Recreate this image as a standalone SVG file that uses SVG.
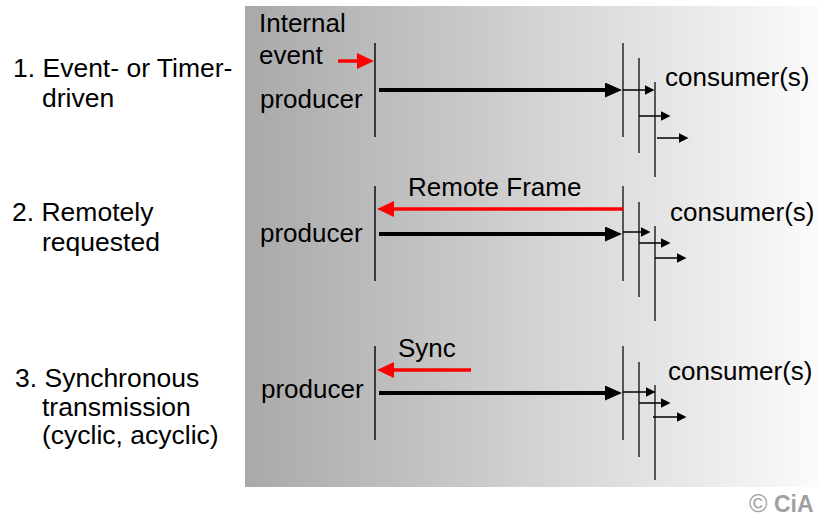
<svg xmlns="http://www.w3.org/2000/svg" width="819" height="517" viewBox="0 0 819 517">
<defs>
<linearGradient id="bg" x1="0" y1="0" x2="1" y2="0">
<stop offset="0" stop-color="#a9a9a9"/>
<stop offset="0.5" stop-color="#d2d2d2"/>
<stop offset="1" stop-color="#fbfbfb"/>
</linearGradient>
<marker id="bigHead" markerUnits="userSpaceOnUse" markerWidth="18" markerHeight="16" refX="1" refY="7.5" orient="auto">
<path d="M0,0 L17,7.5 L0,15 z" fill="#000"/>
</marker>
<marker id="smallHead" markerUnits="userSpaceOnUse" markerWidth="12" markerHeight="12" refX="0.5" refY="5" orient="auto">
<path d="M0,0 L10,5 L0,10 z" fill="#000"/>
</marker>
<marker id="redHead" markerUnits="userSpaceOnUse" markerWidth="18" markerHeight="18" refX="1" refY="8" orient="auto">
<path d="M0,0 L17,8 L0,16 z" fill="#ff0000"/>
</marker>
</defs>
<style>
text{font-family:"Liberation Sans",Arial,sans-serif;fill:#000;}
.lbl{font-size:26px;}
.prod{font-size:26px;}
.side{font-size:26.5px;}
.vline{stroke:#3a3a3a;stroke-width:2;}
.cline{stroke:#333;stroke-width:1.6;}
.big{stroke:#000;stroke-width:4;fill:none;marker-end:url(#bigHead);}
.small{stroke:#000;stroke-width:1.5;fill:none;marker-end:url(#smallHead);}
.red{stroke:#ff0000;stroke-width:3.5;fill:none;marker-end:url(#redHead);}
.logo{font-family:"Liberation Sans",Arial,sans-serif;fill:#a0a0a0;}
</style>
<rect x="245" y="6" width="574" height="481" fill="url(#bg)"/>

<g id="labels">
<text class="side" x="13" y="77">1. Event- or Timer-</text>
<text class="side" x="42" y="107">driven</text>
<text class="side" x="12" y="221">2. Remotely</text>
<text class="side" x="42" y="251">requested</text>
<text class="side" x="15" y="387">3. Synchronous</text>
<text class="side" x="42" y="416">transmission</text>
<text class="side" x="42" y="444">(cyclic, acyclic)</text>
</g>

<g id="producer1">
<line class="vline" x1="375" y1="43" x2="375" y2="137"/>
<text class="lbl" x="259" y="32">Internal</text>
<text class="lbl" x="259" y="64">event</text>
<text class="prod" x="260" y="108">producer</text>
</g>
<g id="consumer1">
<line class="cline" x1="623" y1="43" x2="623" y2="137"/>
<line class="cline" x1="639" y1="58" x2="639" y2="153"/>
<line class="cline" x1="655" y1="82" x2="655" y2="177"/>
<text class="lbl" x="665" y="86">consumer(s)</text>
</g>

<g id="producer2">
<line class="vline" x1="375" y1="186" x2="375" y2="281"/>
<text class="prod" x="260" y="242">producer</text>
</g>
<g id="consumer2">
<line class="cline" x1="623" y1="186" x2="623" y2="281"/>
<line class="cline" x1="639" y1="202" x2="639" y2="297"/>
<line class="cline" x1="655" y1="226" x2="655" y2="321"/>
<text class="lbl" x="670" y="221">consumer(s)</text>
</g>

<g id="producer3">
<line class="vline" x1="375" y1="346" x2="375" y2="440"/>
<text class="prod" x="261" y="398">producer</text>
</g>
<g id="consumer3">
<line class="cline" x1="623" y1="346" x2="623" y2="440"/>
<line class="cline" x1="639" y1="362" x2="639" y2="457"/>
<line class="cline" x1="655" y1="385" x2="655" y2="480"/>
<text class="lbl" x="668" y="380">consumer(s)</text>
</g>

<g id="connectors">
<line class="red" x1="338" y1="61" x2="358" y2="61"/>
<line class="big" x1="379" y1="90" x2="606" y2="90"/>
<line class="small" x1="623" y1="90" x2="645" y2="90"/>
<line class="small" x1="639" y1="116" x2="661" y2="116"/>
<line class="small" x1="657" y1="138" x2="679" y2="138"/>

<line class="red" x1="623" y1="209" x2="393" y2="209"/>
<text class="lbl" x="408" y="196">Remote Frame</text>
<line class="big" x1="379" y1="234" x2="606" y2="234"/>
<line class="small" x1="623" y1="232" x2="641" y2="232"/>
<line class="small" x1="639" y1="243" x2="661" y2="243"/>
<line class="small" x1="655" y1="258" x2="677" y2="258"/>

<line class="red" x1="471" y1="370" x2="393" y2="370"/>
<text class="lbl" x="398" y="357">Sync</text>
<line class="big" x1="379" y1="393" x2="606" y2="393"/>
<line class="small" x1="623" y1="392" x2="646" y2="392"/>
<line class="small" x1="639" y1="403" x2="661" y2="403"/>
<line class="small" x1="653" y1="417" x2="677" y2="417"/>
</g>

<g id="copyright">
<text class="logo" x="749" y="512" font-size="25">©</text>
<text class="logo" x="774" y="512" font-size="23" font-weight="bold">CiA</text>
</g>
</svg>
